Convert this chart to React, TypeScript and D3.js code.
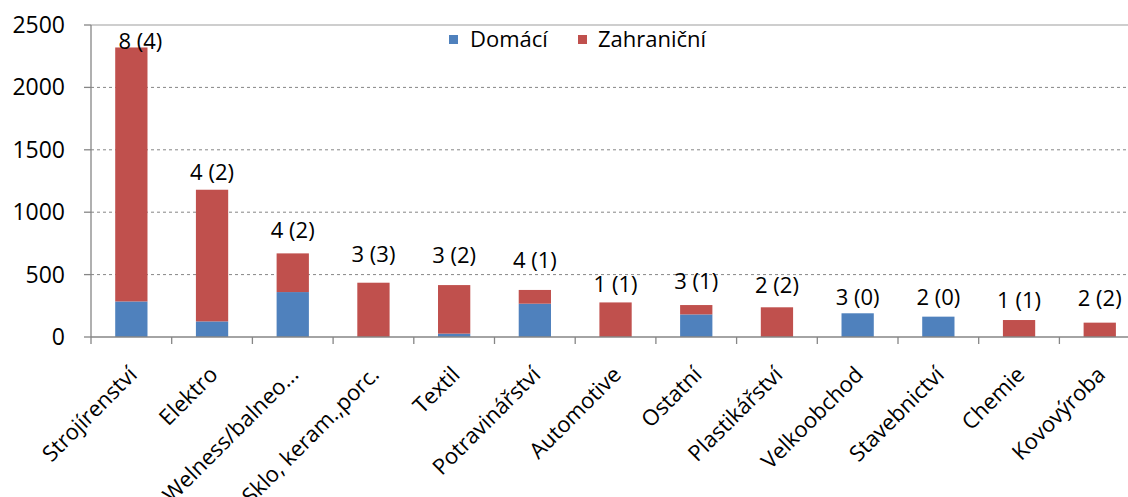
import React from "react";
import * as d3 from "d3";

const categories = [
  "Strojírenství",
  "Elektro",
  "Welness/balneo...",
  "Sklo, keram.,porc.",
  "Textil",
  "Potravinářství",
  "Automotive",
  "Ostatní",
  "Plastikářství",
  "Velkoobchod",
  "Stavebnictví",
  "Chemie",
  "Kovovýroba",
];
const domaci = [285, 125, 360, 0, 27, 267, 0, 181, 0, 190, 163, 0, 0];
const zahranicni = [2035, 1055, 310, 435, 389, 110, 277, 75, 238, 0, 0, 136, 115];
const barLabels = [
  "8 (4)", "4 (2)", "4 (2)", "3 (3)", "3 (2)", "4 (1)", "1 (1)",
  "3 (1)", "2 (2)", "3 (0)", "2 (0)", "1 (1)", "2 (2)",
];
// hidden label series: value level where each count label sits
const labelLevel = [2310, 1258, 793, 601, 593, 553, 361, 385, 353, 256, 256, 232, 248];
const yTicks = [0, 500, 1000, 1500, 2000, 2500];
const seriesNames = ["Domácí", "Zahraniční"];

const W = 1128;
const H = 497;
const FONT = "'Open Sans', sans-serif";
const BLUE = "#4F81BD";
const RED = "#C0504D";
const AXIS = "#868686";

export default function App() {
  const left = 91;
  const step = 80.7;
  const x = d3
    .scaleBand<string>()
    .domain(categories)
    .range([left, left + step * categories.length])
    .paddingInner(0.6)
    .paddingOuter(0.3);
  const y = d3.scaleLinear().domain([0, 2500]).range([337, 25]);
  const st = x.step();
  const x0 = left;
  const bottom = y(0);

  return (
    <svg
      width={W}
      height={H}
      style={{ position: "absolute", left: 0, top: 0, background: "#fff" }}
      fontFamily={FONT}
    >
      {yTicks.filter((t) => t > 0).map((t) => (
        <line
          key={"g" + t}
          x1={x0}
          x2={W}
          y1={y(t)}
          y2={y(t)}
          stroke={AXIS}
          strokeWidth={1}
          strokeDasharray={t === 2500 ? undefined : "3,3"}
          opacity={t === 2500 ? 0.8 : 1}
        />
      ))}
      {categories.map((c, i) => {
        const bx = x(c)!;
        const bw = x.bandwidth();
        const d = domaci[i];
        const z = zahranicni[i];
        return (
          <g key={c}>
            {d > 0 && (
              <rect x={bx} width={bw} y={y(d)} height={bottom - y(d)} fill={BLUE} />
            )}
            {z > 0 && (
              <rect x={bx} width={bw} y={y(d + z)} height={y(d) - y(d + z)} fill={RED} />
            )}
          </g>
        );
      })}
      {categories.map((c, i) => (
        <text
          key={"l" + c}
          x={x(c)! + x.bandwidth() / 2 + (i === 0 ? 9 : 0)}
          y={Math.max(y(labelLevel[i]), 48)}
          textAnchor="middle"
          fontSize={22}
          fill="#000"
        >
          {barLabels[i]}
        </text>
      ))}
      <line x1={x0} x2={x0} y1={y(2500)} y2={bottom} stroke={AXIS} strokeWidth={1.3} />
      {yTicks.map((t) => (
        <g key={"yt" + t}>
          <line x1={x0 - 7} x2={x0} y1={y(t)} y2={y(t)} stroke={AXIS} strokeWidth={1.3} />
          <text
            x={65}
            y={y(t)}
            dy="0.35em"
            textAnchor="end"
            fontSize={23}
            fill="#000"
          >
            {t}
          </text>
        </g>
      ))}
      <line x1={x0} x2={W} y1={bottom} y2={bottom} stroke={AXIS} strokeWidth={1.3} />
      {d3.range(categories.length + 1).map((i) => (
        <line
          key={"xt" + i}
          x1={x0 + i * st}
          x2={x0 + i * st}
          y1={bottom}
          y2={bottom + 7}
          stroke={AXIS}
          strokeWidth={1.3}
        />
      ))}
      {categories.map((c) => {
        const cx = x(c)! + x.bandwidth() / 2 + 7;
        return (
          <text
            key={"xl" + c}
            transform={`translate(${cx},${376}) rotate(-45)`}
            textAnchor="end"
            fontSize={22}
            fill="#000"
          >
            {c}
          </text>
        );
      })}
      <g>
        <rect x={449} y={35} width={9} height={9} fill={BLUE} />
        <text x={470} y={39} dy="0.35em" fontSize={22} fill="#000">
          {seriesNames[0]}
        </text>
        <rect x={578} y={35} width={9} height={9} fill={RED} />
        <text x={598} y={39} dy="0.35em" fontSize={22} fill="#000">
          {seriesNames[1]}
        </text>
      </g>
    </svg>
  );
}
